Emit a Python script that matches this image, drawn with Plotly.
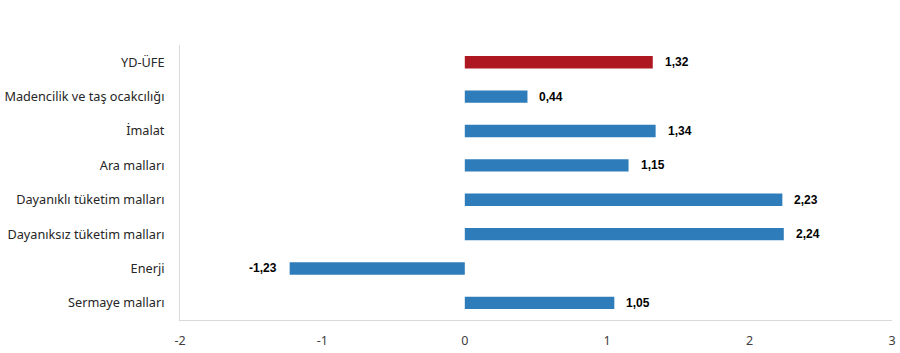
import plotly.graph_objects as go

categories = ["YD-ÜFE", "Madencilik ve taş ocakcılığı", "İmalat", "Ara malları",
              "Dayanıklı tüketim malları", "Dayanıksız tüketim malları", "Enerji", "Sermaye malları"]
values = [1.32, 0.44, 1.34, 1.15, 2.23, 2.24, -1.23, 1.05]
colors = ["#AE1820"] + ["#2E7CBA"] * 7
x_ticks = [-2, -1, 0, 1, 2, 3]

fig = go.Figure(go.Bar(
    y=categories, x=values, orientation="h",
    marker=dict(color=colors, line=dict(width=0)),
    hoverinfo="skip",
))

for c, v in zip(categories, values):
    txt = f"{v:.2f}".replace(".", ",")
    fig.add_annotation(
        x=v, y=c, text=f"<b>{txt}</b>", showarrow=False,
        xanchor="left" if v >= 0 else "right",
        xshift=10 if v >= 0 else -11,
        font=dict(family="Liberation Sans, Arial", size=12, color="#000000"),
    )

fig.update_layout(
    width=900, height=353,
    margin=dict(l=180, r=8, t=45, b=33, autoexpand=False),
    paper_bgcolor="white", plot_bgcolor="white",
    bargap=0.64, showlegend=False,
    font=dict(family="Segoe UI, Noto Sans, Open Sans", size=12.5, color="#404040"),
)
fig.update_xaxes(
    range=[-2, 3], tickvals=x_ticks, ticktext=[str(t) for t in x_ticks],
    showgrid=False, zeroline=False, showline=True, linecolor="#D9D9D9", linewidth=1,
    ticks="", tickfont=dict(size=12.5, color="#404040"), automargin=False,
    ticklabeloverflow="allow", ticklabelstandoff=9,
)
fig.update_yaxes(
    autorange="reversed", showgrid=False, zeroline=False,
    showline=True, linecolor="#D9D9D9", linewidth=1, ticks="", ticklabelstandoff=12,
    tickfont=dict(size=12.7, color="#262626"), automargin=False,
)

fig.write_html("out.html")
